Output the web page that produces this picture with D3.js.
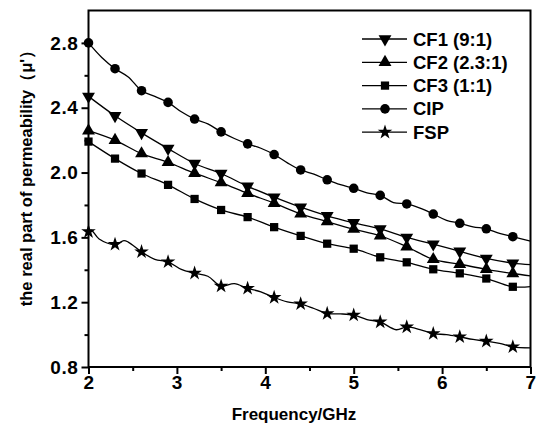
<!DOCTYPE html>
<html>
<head>
<meta charset="utf-8">
<script src="https://cdnjs.cloudflare.com/ajax/libs/d3/7.8.5/d3.min.js"></script>
<style>
    body { margin: 0; background: #fff; }
    text { font-family: "Liberation Sans", Arial, sans-serif; font-weight: bold; fill: #000; }
</style>
</head>
<body>
<svg id="chart" width="539" height="428"></svg>
<script>
/*global d3*/

//frequency points (GHz) where markers sit, plus the end point
var freqs = [2.0, 2.3, 2.6, 2.9, 3.2, 3.5, 3.8, 4.1, 4.4, 4.7, 5.0, 5.3, 5.6, 5.9, 6.2, 6.5, 6.8, 7.0],
    cf1 = [2.47, 2.35, 2.245, 2.148, 2.056, 1.994, 1.915, 1.848, 1.786, 1.733, 1.69, 1.652, 1.60, 1.558, 1.514, 1.47, 1.441, 1.432],
    cf2 = [2.258, 2.199, 2.117, 2.063, 1.996, 1.938, 1.872, 1.811, 1.745, 1.697, 1.651, 1.61, 1.542, 1.464, 1.434, 1.403, 1.377, 1.362],
    cf3 = [2.191, 2.086, 1.994, 1.924, 1.837, 1.769, 1.725, 1.663, 1.609, 1.561, 1.53, 1.477, 1.446, 1.403, 1.378, 1.346, 1.295, 1.296];

//CIP and FSP are wavy, so they carry extra points between markers
var cipFreqs = [2.0, 2.15, 2.3, 2.45, 2.6, 2.75, 2.9, 3.05, 3.2, 3.35, 3.5, 3.65, 3.8, 3.95, 4.1, 4.25, 4.4, 4.55, 4.7, 4.85, 5.0, 5.15, 5.3, 5.45, 5.6, 5.75, 5.9, 6.05, 6.2, 6.35, 6.5, 6.65, 6.8, 7.0],
    cip = [2.80, 2.71, 2.641, 2.59, 2.505, 2.47, 2.433, 2.375, 2.33, 2.30, 2.251, 2.21, 2.177, 2.15, 2.111, 2.06, 2.016, 1.99, 1.955, 1.925, 1.903, 1.875, 1.859, 1.815, 1.806, 1.78, 1.744, 1.705, 1.687, 1.665, 1.653, 1.625, 1.604, 1.577],
    fspFreqs = [2.0, 2.03, 2.12, 2.3, 2.4, 2.45, 2.6, 2.75, 2.9, 3.05, 3.2, 3.35, 3.5, 3.65, 3.8, 3.95, 4.1, 4.25, 4.4, 4.55, 4.7, 4.85, 5.0, 5.15, 5.3, 5.48, 5.6, 5.75, 5.9, 6.05, 6.2, 6.35, 6.5, 6.65, 6.8, 7.0],
    fsp = [1.635, 1.645, 1.59, 1.557, 1.58, 1.571, 1.511, 1.464, 1.449, 1.402, 1.379, 1.36, 1.299, 1.315, 1.285, 1.264, 1.229, 1.202, 1.19, 1.161, 1.13, 1.128, 1.12, 1.093, 1.078, 1.03, 1.047, 1.031, 1.006, 1.0, 0.986, 0.97, 0.959, 0.946, 0.924, 0.918],
    markerFreqs = [2.0, 2.3, 2.6, 2.9, 3.2, 3.5, 3.8, 4.1, 4.4, 4.7, 5.0, 5.3, 5.6, 5.9, 6.2, 6.5, 6.8];

var seriesNames = ["CF1 (9:1)", "CF2 (2.3:1)", "CF3 (1:1)", "CIP", "FSP"],
    xTicks = [2, 3, 4, 5, 6, 7],
    yTicks = [0.8, 1.2, 1.6, 2.0, 2.4, 2.8],
    xLabel = "Frequency/GHz",
    yLabel = "the real part of permeability（μ'）";

//note: "top" is taken by window.top, so the plot edges get their own names
var svg = d3.select("#chart"),
    plotLeft = 88.5,
    plotRight = 530.5,
    plotTop = 10.5,
    plotBottom = 367,
    x = d3.scaleLinear().domain([2, 7]).range([plotLeft, plotRight]),
    y = d3.scaleLinear().domain([0.8, 3.0]).range([plotBottom, plotTop]);

//pair frequencies with values, keep only points that get a marker
function pairs(fs, vs) {
    "use strict";
    return fs.map(function (f, i) { return {f: f, v: vs[i]}; });
}
function markerPoints(pts) {
    "use strict";
    return pts.filter(function (p) {
        return markerFreqs.some(function (m) { return Math.abs(m - p.f) < 1e-6; });
    });
}

var series = [
    {name: seriesNames[0], pts: pairs(freqs, cf1), sym: d3.symbolTriangle, size: 72, rot: 180},
    {name: seriesNames[1], pts: pairs(freqs, cf2), sym: d3.symbolTriangle, size: 72, rot: 0},
    {name: seriesNames[2], pts: pairs(freqs, cf3), sym: d3.symbolSquare, size: 68, rot: 0},
    {name: seriesNames[3], pts: pairs(cipFreqs, cip), sym: d3.symbolCircle, size: 72, rot: 0},
    {name: seriesNames[4], pts: pairs(fspFreqs, fsp), sym: d3.symbolStar, size: 66, rot: 0}
];

var line = d3.line()
    .x(function (d) { return x(d.f); })
    .y(function (d) { return y(d.v); })
    .curve(d3.curveCatmullRom);

//lines and markers
series.forEach(function (s) {
    svg.append("path")
        .attr("d", line(s.pts))
        .attr("fill", "none")
        .attr("stroke", "#000")
        .attr("stroke-width", 1.3);
    svg.append("g").selectAll("path")
        .data(markerPoints(s.pts))
        .enter().append("path")
            .attr("d", d3.symbol().type(s.sym).size(s.size))
            .attr("transform", function (d) { return "translate(" + x(d.f) + "," + y(d.v) + ") rotate(" + s.rot + ")"; })
            .attr("fill", "#000");
});

//axes: major ticks outward, minor ticks shorter
var xAxis = d3.axisBottom(x).tickValues(xTicks).tickSize(7).tickPadding(2).tickFormat(d3.format("d")),
    xMinor = d3.axisBottom(x).tickValues([2.5, 3.5, 4.5, 5.5, 6.5]).tickSize(4).tickFormat(""),
    yAxis = d3.axisLeft(y).tickValues(yTicks).tickSize(7).tickPadding(3).tickFormat(d3.format(".1f")),
    yMinor = d3.axisLeft(y).tickValues([1.0, 1.4, 1.8, 2.2, 2.6]).tickSize(4).tickFormat("");

[xAxis, xMinor].forEach(function (a) {
    svg.append("g").attr("transform", "translate(0," + plotBottom + ")").call(a);
});
[yAxis, yMinor].forEach(function (a) {
    svg.append("g").attr("transform", "translate(" + plotLeft + ",0)").call(a);
});
svg.selectAll(".domain").remove();
svg.selectAll(".tick line").attr("stroke", "#000").attr("stroke-width", 2);
svg.selectAll(".tick text")
    .attr("font-size", 19)
    .attr("font-family", null)
    .attr("letter-spacing", 0.6)
    .attr("fill", "#000");

//frame
svg.append("rect")
    .attr("x", plotLeft)
    .attr("y", plotTop)
    .attr("width", plotRight - plotLeft)
    .attr("height", plotBottom - plotTop)
    .attr("fill", "none")
    .attr("stroke", "#000")
    .attr("stroke-width", 2);

//axis titles
svg.append("text")
    .attr("x", 294)
    .attr("y", 420)
    .attr("text-anchor", "middle")
    .attr("font-size", 17)
    .text(xLabel);
svg.append("text")
    .attr("transform", "translate(32,174) rotate(-90)")
    .attr("text-anchor", "middle")
    .attr("font-size", 16.5)
    .text(yLabel);

//legend
var legend = svg.append("g").attr("transform", "translate(362,39)");
series.forEach(function (s, i) {
    var row = legend.append("g").attr("transform", "translate(0," + (i * 23.3) + ")");
    row.append("line")
        .attr("x1", 0).attr("x2", 45)
        .attr("stroke", "#000").attr("stroke-width", 1.3);
    row.append("path")
        .attr("d", d3.symbol().type(s.sym).size(s.size))
        .attr("transform", "translate(23,0) rotate(" + s.rot + ")")
        .attr("fill", "#000");
    row.append("text")
        .attr("x", 51)
        .attr("y", 6.5)
        .attr("font-size", 18.5)
        .text(s.name);
});
</script>
</body>
</html>
